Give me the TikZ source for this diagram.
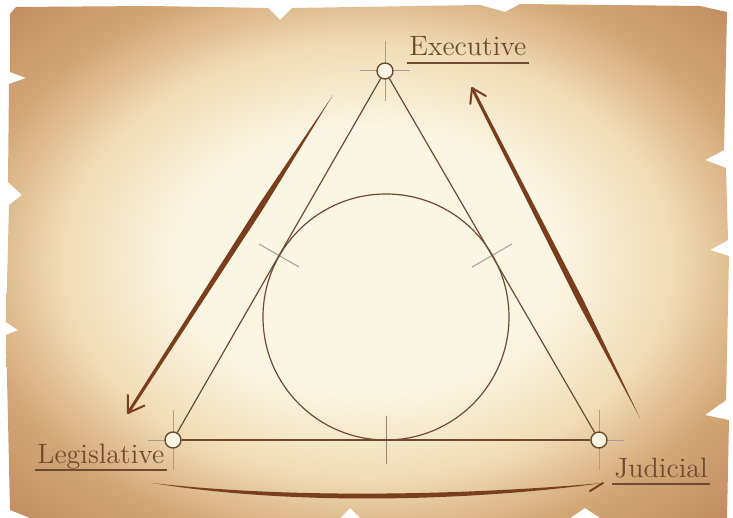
\documentclass[tikz,border=0pt]{standalone}
\usepackage{tikz}
\usetikzlibrary{calc,arrows.meta}
\definecolor{ink}{HTML}{6E4B30}
\definecolor{rust}{HTML}{7A3E1C}
\definecolor{pencil}{HTML}{A89E90}
\definecolor{cream}{HTML}{FBF5E3}
\definecolor{wheat}{HTML}{F0DDB6}
\definecolor{tan}{HTML}{D3A676}
\definecolor{umber}{HTML}{BF8A5E}
\pgfdeclareradialshading{parch}{\pgfpoint{0bp}{0bp}}{%
  color(0bp)=(cream); color(13bp)=(cream); color(21bp)=(wheat); color(28bp)=(tan); color(36bp)=(umber); color(50bp)=(umber)}
\tikzset{
  parchment/.style = {shading=parch},
  side/.style      = {draw=ink, line width=0.6pt},
  vtx/.style       = {circle, draw=ink, fill=cream, line width=0.7pt, minimum size=8pt, inner sep=0pt},
  guide/.style     = {draw=pencil, line width=0.5pt},
  lbl/.style       = {font=\fontsize{14}{17}\selectfont, text=ink, inner sep=1pt, anchor=base west},
  uline/.style     = {draw=ink, line width=0.6pt},
  brush/.style     = {fill=rust, draw=none},
  head/.style      = {draw=rust, line width=1pt, line cap=round, line join=round},
}
% tapered stroke from #1 to #2: half width #3, half width #4 at #2
\newcommand{\brushstroke}[4]{%
  \coordinate (bs) at ($(#1)!0.35!(#2)$);
  \fill[brush] (#1) -- ($(bs)!#3!90:(#2)$) -- ($(#2)!#4!-90:(#1)$) -- (#2)
    -- ($(#2)!#4!90:(#1)$) -- ($(bs)!#3!-90:(#2)$) -- cycle;%
}

\begin{document}
\begin{tikzpicture}[x=0.5pt,y=-0.5pt]
  \fill[white] (0,0) rectangle (733,518);
  \useasboundingbox (0,0) rectangle (733,518);

  % torn paper
  \shade[parchment] (16,7) -- (150,6) -- (268,8) -- (280,20) -- (292,8) -- (480,5) -- (505,12)
    -- (520,4) -- (700,6) -- (727,12) -- (724,150) -- (705,160) -- (726,168) -- (728,240)
    -- (710,250) -- (729,256) -- (726,400) -- (705,415) -- (729,420) -- (727,518)
    -- (600,518) -- (585,508) -- (570,518) -- (360,518) -- (350,508) -- (340,518)
    -- (30,518) -- (10,510) -- (8,420) -- (6,335) -- (18,330) -- (6,322) -- (9,205)
    -- (22,195) -- (8,182) -- (9,84) -- (26,78) -- (10,72) -- (10,14) -- cycle;

  % construction lines
  \coordinate (exepos) at (385,71);
  \coordinate (legpos) at (173,440);
  \coordinate (judpos) at (599,440);
  \foreach \p in {exepos,legpos,judpos} {
    \draw[guide] ($(\p)+(-25,0)$) -- ($(\p)+(25,0)$);
    \draw[guide] ($(\p)+(0,-30)$) -- ($(\p)+(0,30)$);
  }
  \coordinate (tl) at ($(exepos)!0.5!(legpos)$);
  \coordinate (tr) at ($(exepos)!0.5!(judpos)$);
  \coordinate (tb) at ($(legpos)!0.5!(judpos)$);
  \draw[guide] ($(tl)!11.5pt!90:(exepos)$) -- ($(tl)!11.5pt!-90:(exepos)$);
  \draw[guide] ($(tr)!11.5pt!90:(exepos)$) -- ($(tr)!11.5pt!-90:(exepos)$);
  \draw[guide, draw=ink!70] ($(tb)+(0,-24)$) -- ($(tb)+(0,24)$);

  % triangle and incircle
  \node[vtx] (exe) at (exepos) {};
  \node[vtx] (leg) at (legpos) {};
  \node[vtx] (jud) at (judpos) {};
  \draw[side] (exe) -- (leg);
  \draw[side] (leg) -- (jud);
  \draw[side] (jud) -- (exe);
  \coordinate (inc) at (386,317);
  \draw[side] (inc) circle[radius=123];

  % labels
  \node[lbl] (exetxt) at (407,56) {Executive};
  \node[lbl] (legtxt) at (35,463) {Legislative};
  \node[lbl] (judtxt) at (612,477) {Judicial};
  \foreach \t in {exetxt,legtxt,judtxt}
    \draw[uline] ([yshift=-3.5pt]\t.base west) -- ([yshift=-3.5pt]\t.base east);

  % big arrows
  \coordinate (la) at (333,95);
  \coordinate (lb) at (128,413);
  \brushstroke{la}{lb}{1.5pt}{0.7pt}
  \draw[head] ($(lb)!9pt!33:(la)$) -- (lb) -- ($(lb)!9pt!-33:(la)$);

  \coordinate (ra) at (640,418);
  \coordinate (rb) at (472,88);
  \brushstroke{ra}{rb}{1.5pt}{0.7pt}
  \draw[head] ($(rb)!8pt!33:(ra)$) -- (rb) -- ($(rb)!8pt!-33:(ra)$);

  \coordinate (ba) at (152,483);
  \coordinate (bb) at (603,483);
  \fill[brush] (ba) .. controls (300,500) and (480,494) .. (bb)
    .. controls (480,500) and (300,507) .. (ba) -- cycle;
  \draw[head] (bb) -- (590,491);
\end{tikzpicture}
\end{document}
